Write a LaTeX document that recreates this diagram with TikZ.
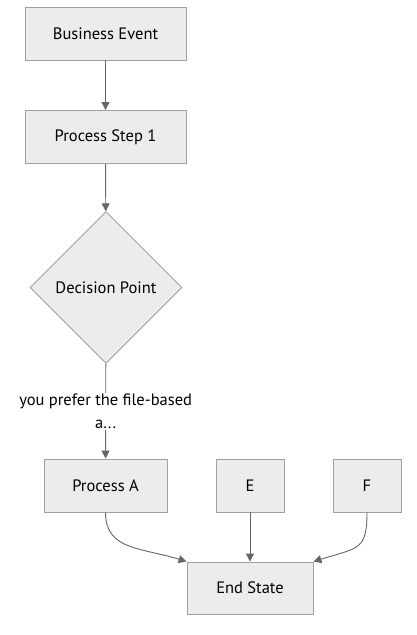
\documentclass[tikz,border=0pt]{standalone}
\usepackage{fontspec}
\setmainfont{PT Sans}
\usetikzlibrary{shapes.geometric,arrows.meta}
\definecolor{boxfill}{HTML}{ECECEC}
\definecolor{boxline}{HTML}{A0A0A0}
\definecolor{edgecol}{HTML}{666666}
\tikzset{
  box/.style={draw=boxline, fill=boxfill, line width=0.9pt, minimum height=53pt, font=\fontsize{16.5}{19}\selectfont},
  choice/.style={diamond, aspect=1, draw=boxline, fill=boxfill, line width=0.9pt, minimum size=152pt, inner sep=0pt, font=\fontsize{16.5}{19}\selectfont},
  flow/.style={draw=edgecol, line width=0.9pt, -{Triangle[length=8pt,width=8pt]}},
  lbl/.style={fill=white, align=center, inner sep=1pt, font=\fontsize{16.5}{23}\selectfont}
}

\begin{document}
\begin{tikzpicture}[x=1pt, y=1pt]
		\useasboundingbox (0,0) rectangle (416,-635);
		
		% 上部流程
		\node[box, minimum width=161pt] (be) at (105.5,-33.5) {Business Event};
		\node[box, minimum width=161pt] (ps) at (105.5,-137) {Process Step 1};
		\node[choice] (dp) at (106,-287.5) {Decision Point};
		
		% 分支
		\node[box, minimum width=123pt] (pa) at (105.5,-485.5) {Process A};
		\node[box, minimum width=68pt] (e) at (250,-485.5) {E};
		\node[box, minimum width=68pt] (f) at (367,-485.5) {F};
		
		% 结束
		\node[box, minimum width=126pt, minimum height=52pt] (es) at (250,-588) {End State};
		
		% 连线
		\draw[flow] (be) -- (ps);
		\draw[flow] (ps) -- (dp);
		\draw[flow] (dp) -- node[lbl] {you prefer the file-based\\a...} (pa);
		\draw[flow] (pa.south) .. controls +(0,-38) and +(-45,14) .. (es.north west);
		\draw[flow] (e) -- (es);
		\draw[flow] (f.south) .. controls +(0,-38) and +(45,14) .. (es.north east);
	\end{tikzpicture}
\end{document}
